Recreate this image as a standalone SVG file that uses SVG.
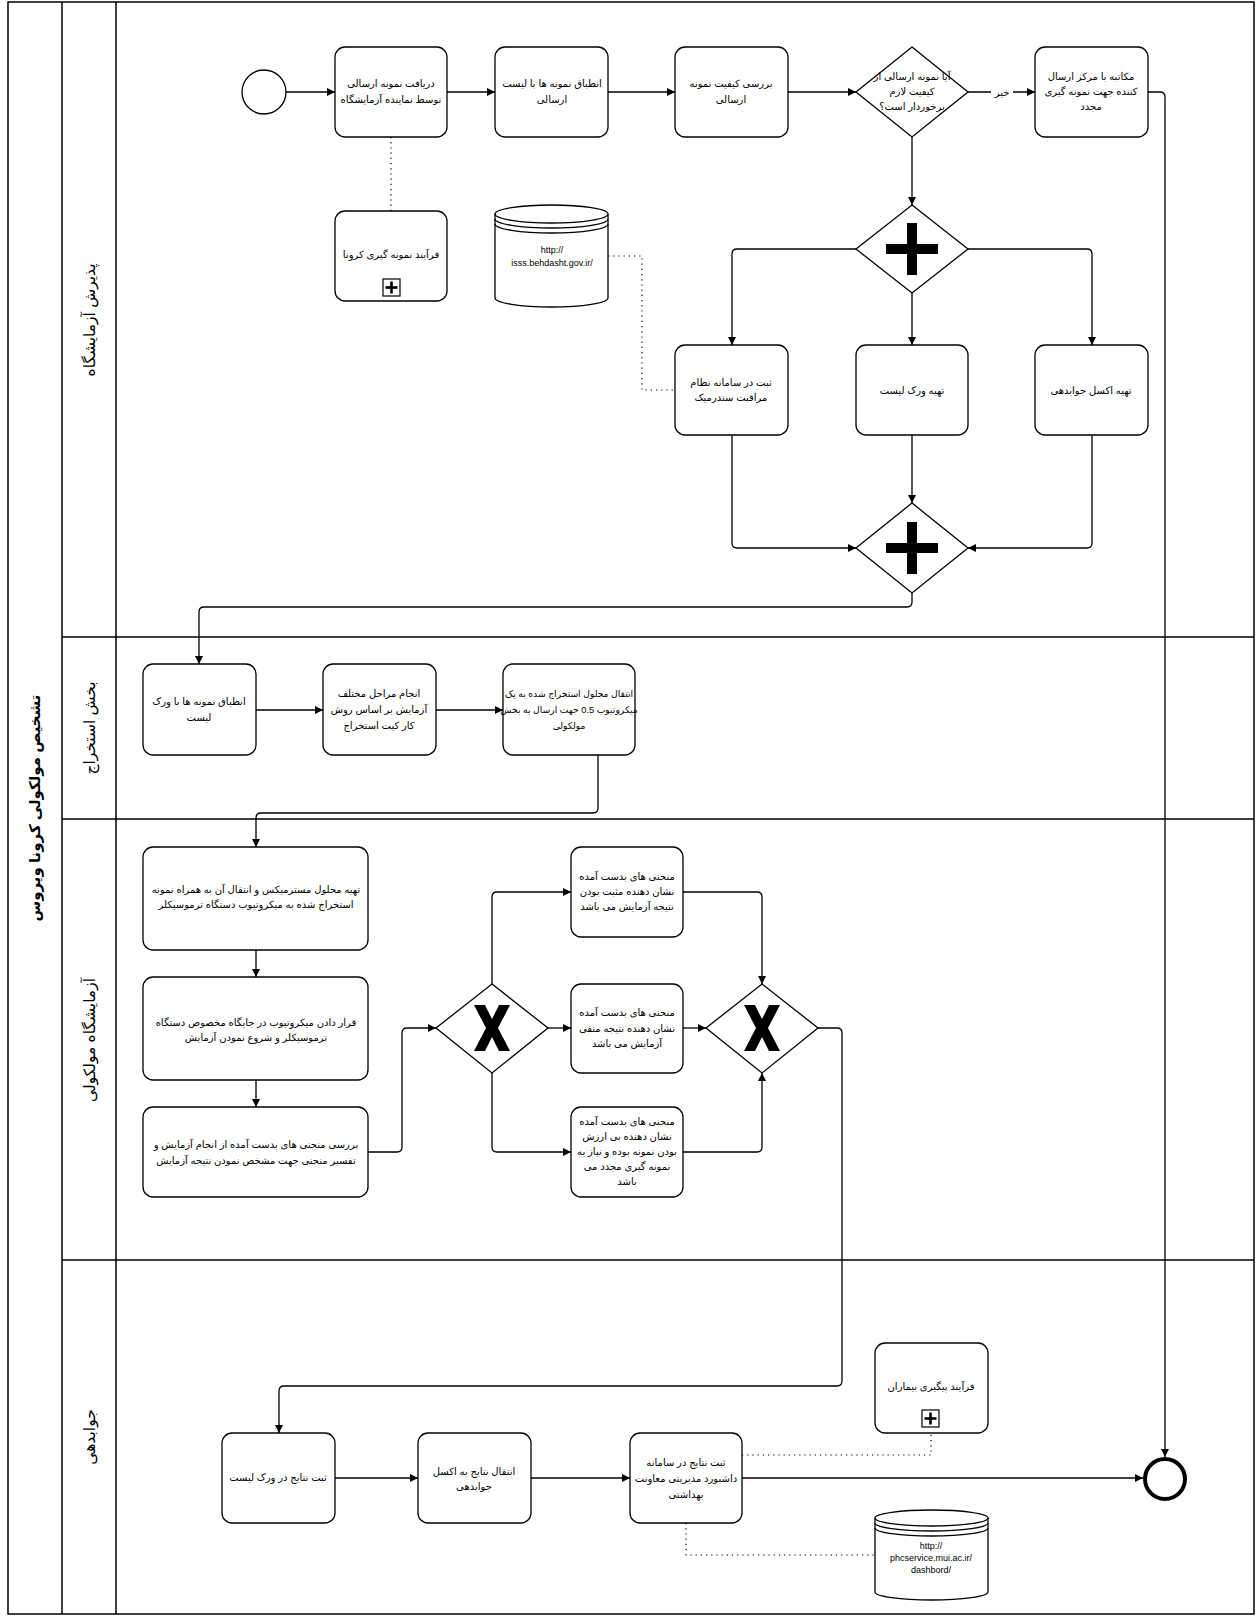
<svg xmlns="http://www.w3.org/2000/svg" width="1257" height="1617" viewBox="0 0 1257 1617">
<style>
.frame{fill:none;stroke:#000;stroke-width:1.5}
.task{fill:#fff;stroke:#000;stroke-width:1.3}
.gw{fill:#fff;stroke:#000;stroke-width:1.3}
.mk{fill:#000;stroke:none}
.t{font-family:'Liberation Sans','DejaVu Sans',sans-serif;font-size:10px;fill:#000;text-anchor:middle;direction:rtl}
.s{font-size:9.2px}
.u{font-family:'Liberation Sans','DejaVu Sans',sans-serif;font-size:9px;fill:#000;text-anchor:middle}
.lane{font-family:'Liberation Sans','DejaVu Sans',sans-serif;font-size:15.5px;fill:#000;text-anchor:middle;direction:rtl}
.pool{font-family:'Liberation Sans','DejaVu Sans',sans-serif;font-size:15px;font-weight:bold;fill:#000;text-anchor:middle;direction:rtl}
.c{fill:none;stroke:#000;stroke-width:1.3;marker-end:url(#arr)}
.d{fill:none;stroke:#000;stroke-width:1.2;stroke-dasharray:1.2 4}
</style>
<defs>
<marker id="arr" markerUnits="userSpaceOnUse" markerWidth="10" markerHeight="10" refX="9" refY="5" orient="auto">
<path d="M1,1 L9,5 L1,9 Z" fill="#000"/>
</marker>
</defs>
<rect width="1257" height="1617" fill="#fff"/>
<g id="pool">
<rect class="frame" x="8" y="2" width="1246" height="1612"/>
<line class="frame" x1="62" y1="2" x2="62" y2="1614"/>
<line class="frame" x1="116" y1="2" x2="116" y2="1614"/>
<line class="frame" x1="62" y1="637" x2="1254" y2="637"/>
<line class="frame" x1="62" y1="819" x2="1254" y2="819"/>
<line class="frame" x1="62" y1="1260" x2="1254" y2="1260"/>
<text class="pool" transform="translate(40,808) rotate(-90)">تشخیص مولکولی کرونا ویروس</text>
<text class="lane" transform="translate(95,320) rotate(-90)">پذیرش آزمایشگاه</text>
<text class="lane" transform="translate(95,728) rotate(-90)">بخش استخراج</text>
<text class="lane" transform="translate(95,1040) rotate(-90)">آزمایشگاه مولکولی</text>
<text class="lane" transform="translate(95,1437) rotate(-90)">جوابدهی</text>
</g>
<g id="connectors">
<path class="c" d="M286,92 H335"/>
<path class="c" d="M447,92 H495"/>
<path class="c" d="M608,92 H675"/>
<path class="c" d="M788,92 H856"/>
<path class="c" d="M968,92 H1035"/>
<path class="c" d="M1148,92 H1160 Q1165,92 1165,97 V1457"/>
<path class="c" d="M912,137 V205"/>
<path class="c" d="M856,249 H737 Q732,249 732,254 V345"/>
<path class="c" d="M912,293 V345"/>
<path class="c" d="M968,249 H1087 Q1092,249 1092,254 V345"/>
<path class="c" d="M732,435 V543 Q732,548 737,548 H856"/>
<path class="c" d="M912,435 V503"/>
<path class="c" d="M1092,435 V543 Q1092,548 1087,548 H968"/>
<path class="c" d="M912,593 V602 Q912,607 907,607 H204 Q199,607 199,612 V664"/>
<path class="c" d="M256,710 H323"/>
<path class="c" d="M436,710 H503"/>
<path class="c" d="M598,755 V808 Q598,813 593,813 H261 Q256,813 256,818 V847"/>
<path class="c" d="M256,950 V977"/>
<path class="c" d="M256,1080 V1107"/>
<path class="c" d="M368,1152 H397 Q402,1152 402,1147 V1033 Q402,1028 407,1028 H436"/>
<path class="c" d="M492,984 V897 Q492,892 497,892 H571"/>
<path class="c" d="M548,1028 H571"/>
<path class="c" d="M492,1073 V1147 Q492,1152 497,1152 H571"/>
<path class="c" d="M683,892 H757 Q762,892 762,897 V984"/>
<path class="c" d="M683,1028 H706"/>
<path class="c" d="M683,1152 H757 Q762,1152 762,1147 V1073"/>
<path class="c" d="M818,1028 H837 Q842,1028 842,1033 V1381 Q842,1386 837,1386 H284 Q279,1386 279,1391 V1433"/>
<path class="c" d="M335,1478 H418"/>
<path class="c" d="M531,1478 H630"/>
<path class="c" d="M742,1478 H1143"/>
<path class="d" d="M391,137 V211"/>
<path class="d" d="M608,256 H642 V390 H675"/>
<path class="d" d="M742,1455 H931 V1433"/>
<path class="d" d="M686,1523 V1555 H875"/>
<rect x="991" y="85" width="22" height="15" fill="#fff"/>
<text class="t" x="1002" y="96">خیر</text>
</g>
<g id="start"><circle cx="264" cy="92" r="22" fill="#fff" stroke="#000" stroke-width="1.3"/></g>
<g id="t1"><rect class="task" x="335" y="47" width="112" height="90" rx="10"/>
<text class="t" x="391" y="87">دریافت نمونه ارسالی</text><text class="t" x="391" y="103">توسط نماینده آزمایشگاه</text></g>
<g id="t2"><rect class="task" x="495" y="47" width="113" height="90" rx="10"/>
<text class="t" x="552" y="87">انطباق نمونه ها با لیست</text><text class="t" x="552" y="103">ارسالی</text></g>
<g id="t3"><rect class="task" x="675" y="47" width="113" height="90" rx="10"/>
<text class="t" x="731" y="87">بررسی کیفیت نمونه</text><text class="t" x="731" y="103">ارسالی</text></g>
<g id="g1"><polygon class="gw" points="912,47 968,92 912,137 856,92"/>
<text class="t" x="912" y="80">آیا نمونه ارسالی از</text><text class="t" x="912" y="95">کیفیت لازم</text><text class="t" x="912" y="110">برخوردار است؟</text></g>
<g id="t4"><rect class="task" x="1035" y="47" width="113" height="90" rx="10"/>
<text class="t" x="1091" y="80">مکاتبه با مرکز ارسال</text><text class="t" x="1091" y="95">کننده جهت نمونه گیری</text><text class="t" x="1091" y="110">مجدد</text></g>
<g id="sp1"><rect class="task" x="335" y="211" width="112" height="90" rx="10"/>
<text class="t" x="391" y="258">فرآیند نمونه گیری کرونا</text>
<rect x="383" y="279" width="17" height="17" fill="#fff" stroke="#000" stroke-width="1.2"/>
<rect class="mk" x="385.5" y="286.2" width="12" height="2.6"/><rect class="mk" x="390.2" y="281.5" width="2.6" height="12"/></g>
<g id="ds1"><path d="M495,214 A56.5,9 0 0 1 608,214 V298 A56.5,9 0 0 1 495,298 Z" fill="#fff" stroke="#000" stroke-width="1.3"/>
<path d="M495,214 A56.5,9 0 0 0 608,214 M495,219 A56.5,9 0 0 0 608,219 M495,224 A56.5,9 0 0 0 608,224" fill="none" stroke="#000" stroke-width="1.3"/>
<text class="u" x="552" y="253">http://</text><text class="u" x="552" y="266">isss.behdasht.gov.ir/</text></g>
<g id="p1"><polygon class="gw" points="912,205 968,249 912,293 856,249"/>
<rect class="mk" x="886" y="244" width="52" height="10"/><rect class="mk" x="907" y="223" width="10" height="52"/></g>
<g id="t5"><rect class="task" x="675" y="345" width="113" height="90" rx="10"/>
<text class="t" x="731" y="386">ثبت در سامانه نظام</text><text class="t" x="731" y="401">مراقبت سندرمیک</text></g>
<g id="t6"><rect class="task" x="856" y="345" width="112" height="90" rx="10"/>
<text class="t" x="912" y="394">تهیه ورک لیست</text></g>
<g id="t7"><rect class="task" x="1035" y="345" width="113" height="90" rx="10"/>
<text class="t" x="1091" y="394">تهیه اکسل جوابدهی</text></g>
<g id="p2"><polygon class="gw" points="912,503 968,548 912,593 856,548"/>
<rect class="mk" x="886" y="543" width="52" height="10"/><rect class="mk" x="907" y="522" width="10" height="52"/></g>
<g id="e1"><rect class="task" x="143" y="664" width="113" height="91" rx="10"/>
<text class="t" x="199" y="705">انطباق نمونه ها با ورک</text><text class="t" x="199" y="721">لیست</text></g>
<g id="e2"><rect class="task" x="323" y="664" width="113" height="91" rx="10"/>
<text class="t" x="379" y="697">انجام مراحل مختلف</text><text class="t" x="379" y="713">آزمایش بر اساس روش</text><text class="t" x="379" y="729">کار کیت استخراج</text></g>
<g id="e3"><rect class="task" x="503" y="664" width="132" height="91" rx="10"/>
<text class="t s" x="569" y="697">انتقال محلول استخراج شده به یک</text><text class="t s" x="569" y="713">میکروتیوب 0.5 جهت ارسال به بخش</text><text class="t s" x="569" y="729">مولکولی</text></g>
<g id="m1"><rect class="task" x="143" y="847" width="225" height="103" rx="10"/>
<text class="t" x="256" y="893">تهیه محلول مسترمیکس و انتقال آن به همراه نمونه</text><text class="t" x="256" y="908">استخراج شده به میکروتیوب دستگاه ترموسیکلر</text></g>
<g id="m2"><rect class="task" x="143" y="977" width="225" height="103" rx="10"/>
<text class="t" x="256" y="1026">قرار دادن میکروتیوب در جایگاه مخصوص دستگاه</text><text class="t" x="256" y="1041">ترموسیکلر و شروع نمودن آزمایش</text></g>
<g id="m3"><rect class="task" x="143" y="1107" width="225" height="90" rx="10"/>
<text class="t" x="256" y="1148">بررسی منحنی های بدست آمده از انجام آزمایش و</text><text class="t" x="256" y="1164">تفسیر منحنی جهت مشخص نمودن نتیجه آزمایش</text></g>
<g id="x1"><polygon class="gw" points="492,984 548,1028 492,1073 436,1028"/>
<polygon class="mk" points="474,1005 485,1005 492,1019 499,1005 510,1005 498,1028 510,1051 499,1051 492,1037 485,1051 474,1051 486,1028"/></g>
<g id="r1"><rect class="task" x="571" y="847" width="112" height="90" rx="10"/>
<text class="t" x="627" y="880">منحنی های بدست آمده</text><text class="t" x="627" y="895">نشان دهنده مثبت بودن</text><text class="t" x="627" y="910">نتیجه آزمایش می باشد</text></g>
<g id="r2"><rect class="task" x="571" y="984" width="112" height="89" rx="10"/>
<text class="t" x="627" y="1016">منحنی های بدست آمده</text><text class="t" x="627" y="1032">نشان دهنده نتیجه منفی</text><text class="t" x="627" y="1047">آزمایش می باشد</text></g>
<g id="r3"><rect class="task" x="571" y="1107" width="112" height="90" rx="10"/>
<text class="t" x="627" y="1125">منحنی های بدست آمده</text><text class="t" x="627" y="1140">نشان دهنده بی ارزش</text><text class="t" x="627" y="1155">بودن نمونه بوده و نیاز به</text><text class="t" x="627" y="1170">نمونه گیری مجدد می</text><text class="t" x="627" y="1185">باشد</text></g>
<g id="x2"><polygon class="gw" points="762,984 818,1028 762,1073 706,1028"/>
<polygon class="mk" points="744,1005 755,1005 762,1019 769,1005 780,1005 768,1028 780,1051 769,1051 762,1037 755,1051 744,1051 756,1028"/></g>
<g id="j1"><rect class="task" x="222" y="1433" width="113" height="90" rx="10"/>
<text class="t" x="278" y="1481">ثبت نتایج در ورک لیست</text></g>
<g id="j2"><rect class="task" x="418" y="1433" width="113" height="90" rx="10"/>
<text class="t" x="474" y="1475">انتقال نتایج به اکسل</text><text class="t" x="474" y="1490">جوابدهی</text></g>
<g id="j3"><rect class="task" x="630" y="1433" width="112" height="90" rx="10"/>
<text class="t" x="686" y="1466">ثبت نتایج در سامانه</text><text class="t" x="686" y="1482">داشبورد مدیریتی معاونت</text><text class="t" x="686" y="1498">بهداشتی</text></g>
<g id="sp2"><rect class="task" x="875" y="1343" width="113" height="90" rx="10"/>
<text class="t" x="931" y="1390">فرآیند پیگیری بیماران</text>
<rect x="922" y="1410" width="17" height="17" fill="#fff" stroke="#000" stroke-width="1.2"/>
<rect class="mk" x="924.5" y="1417.2" width="12" height="2.6"/><rect class="mk" x="929.2" y="1412.5" width="2.6" height="12"/></g>
<g id="ds2"><path d="M875,1518 A56.5,8 0 0 1 988,1518 V1592 A56.5,8 0 0 1 875,1592 Z" fill="#fff" stroke="#000" stroke-width="1.3"/>
<path d="M875,1518 A56.5,8 0 0 0 988,1518 M875,1523 A56.5,8 0 0 0 988,1523 M875,1528 A56.5,8 0 0 0 988,1528" fill="none" stroke="#000" stroke-width="1.3"/>
<text class="u" x="931" y="1549">http://</text><text class="u" x="931" y="1561">phcservice.mui.ac.ir/</text><text class="u" x="931" y="1573">dashbord/</text></g>
<g id="end"><circle cx="1165" cy="1479" r="20" fill="#fff" stroke="#000" stroke-width="4"/></g>
</svg>
